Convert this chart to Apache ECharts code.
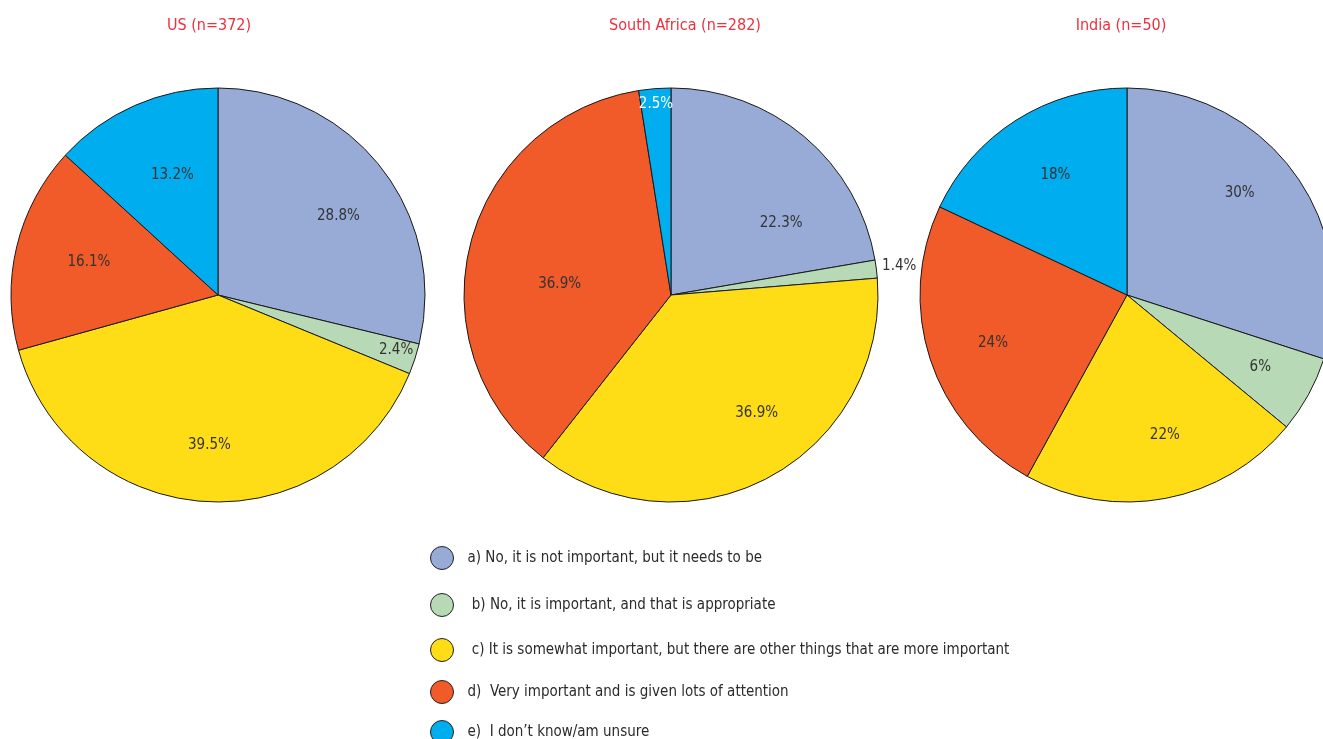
<!DOCTYPE html>
<html>
<head>
<meta charset="utf-8">
<script src="https://cdn.jsdelivr.net/npm/echarts@6/dist/echarts.min.js"></script>
<style>
  html, body { margin: 0; padding: 0; background: #fff; }
  #chart { width: 1323px; height: 739px; }
</style>
</head>
<body>
<div id="chart"></div>
<script>
// Answer categories (legend order)
const categories = [
  'a) No, it is not important, but it needs to be',
  ' b) No, it is important, and that is appropriate',
  ' c) It is somewhat important, but there are other things that are more important',
  'd)  Very important and is given lots of attention',
  'e)  I don\u2019t know/am unsure'
];

// Country panels
const countries = ['US (n=372)', 'South Africa (n=282)', 'India (n=50)'];

// Percent shares per country, in category order
const usValues = [28.8, 2.4, 39.5, 16.1, 13.2];
const southAfricaValues = [22.3, 1.4, 36.9, 36.9, 2.5];
const indiaValues = [30, 6, 22, 24, 18];

const seriesValues = [usValues, southAfricaValues, indiaValues];

const colors = ['#97abd6', '#b7d9b5', '#fedd17', '#f15a29', '#00aeef'];

// Layout of the three pies
const centers = [[218, 295], [671, 295], [1127, 295]];
const titleX = [209, 685, 1121];
const R = 207;

// Where each slice's label ring sits: 'in' (inside body), 'edge' (near rim), 'out' (just outside)
const labelRings = [
  ['in', 'edge', 'in', 'in', 'in'],
  ['in', 'out', 'in', 'in', 'edge'],
  ['in', 'in', 'in', 'in', 'in']
];
const ringRadius = { in: [73, R], edge: [170, R], out: [R, 247] };
const labelColors = [
  ['#333', '#333', '#333', '#333', '#333'],
  ['#333', '#333', '#333', '#333', '#fff'],
  ['#333', '#333', '#333', '#333', '#333']
];
// small nudges of individual value labels away from the slice bisector
const labelNudge = [
  [[8, 9], [-4, -4], [0, 7], [10, 0], [12, 11]],
  [[18, 37], [0, 0], [18, -8], [27, 25], [0, 0]],
  [[-3, -18], [8, 3], [11, 0], [2, 4], [5, 1]]
];

const FONT = '"DejaVu Sans Condensed", "Liberation Sans Narrow", "DejaVu Sans", sans-serif';

const series = [];
seriesValues.forEach((vals, p) => {
  // the visible pie
  series.push({
    type: 'pie',
    center: centers[p],
    radius: R,
    startAngle: 90,
    clockwise: true,
    silent: true,
    animation: false,
    label: { show: false },
    labelLine: { show: false },
    itemStyle: { borderColor: '#1a1a1a', borderWidth: 1 },
    data: vals.map((v, i) => ({ name: categories[i], value: v, itemStyle: { color: colors[i] } }))
  });
  // transparent label rings
  ['in', 'edge', 'out'].forEach(ring => {
    if (!labelRings[p].includes(ring)) return;
    series.push({
      type: 'pie',
      center: centers[p],
      radius: ringRadius[ring],
      startAngle: 90,
      clockwise: true,
      silent: true,
      animation: false,
      legendHoverLink: false,
      itemStyle: { color: 'rgba(0,0,0,0)', borderWidth: 0 },
      labelLine: { show: false },
      data: vals.map((v, i) => ({
        name: categories[i] + '#' + ring,
        value: v,
        label: {
          show: labelRings[p][i] === ring,
          position: 'inside',
          formatter: v + '%',
          offset: labelNudge[p][i],
          color: labelColors[p][i],
          fontFamily: FONT,
          fontSize: 15
        }
      }))
    });
  });
});

const legendTops = [546, 593, 638, 680, 720];
const legends = categories.map((c, i) => ({
  data: [c],
  left: 430,
  top: legendTops[i],
  padding: 0,
  orient: 'vertical',
  icon: 'circle',
  itemWidth: 23,
  itemHeight: 23,
  selectedMode: false,
  itemStyle: { borderColor: '#222', borderWidth: 1 },
  textStyle: { fontFamily: FONT, fontSize: 15, color: '#2b2b2b', padding: [0, 0, 0, 9] }
}));

const chart = echarts.init(document.getElementById('chart'), null, { renderer: 'canvas' });
chart.setOption({
  backgroundColor: '#ffffff',
  animation: false,
  color: colors,
  title: countries.map((t, i) => ({
    text: t,
    left: titleX[i],
    top: 18,
    padding: 0,
    textAlign: 'center',
    textStyle: { fontFamily: FONT, fontSize: 16, fontWeight: 'normal', color: '#ee2f3c' }
  })),
  legend: legends,
  series: series
});
</script>
</body>
</html>
